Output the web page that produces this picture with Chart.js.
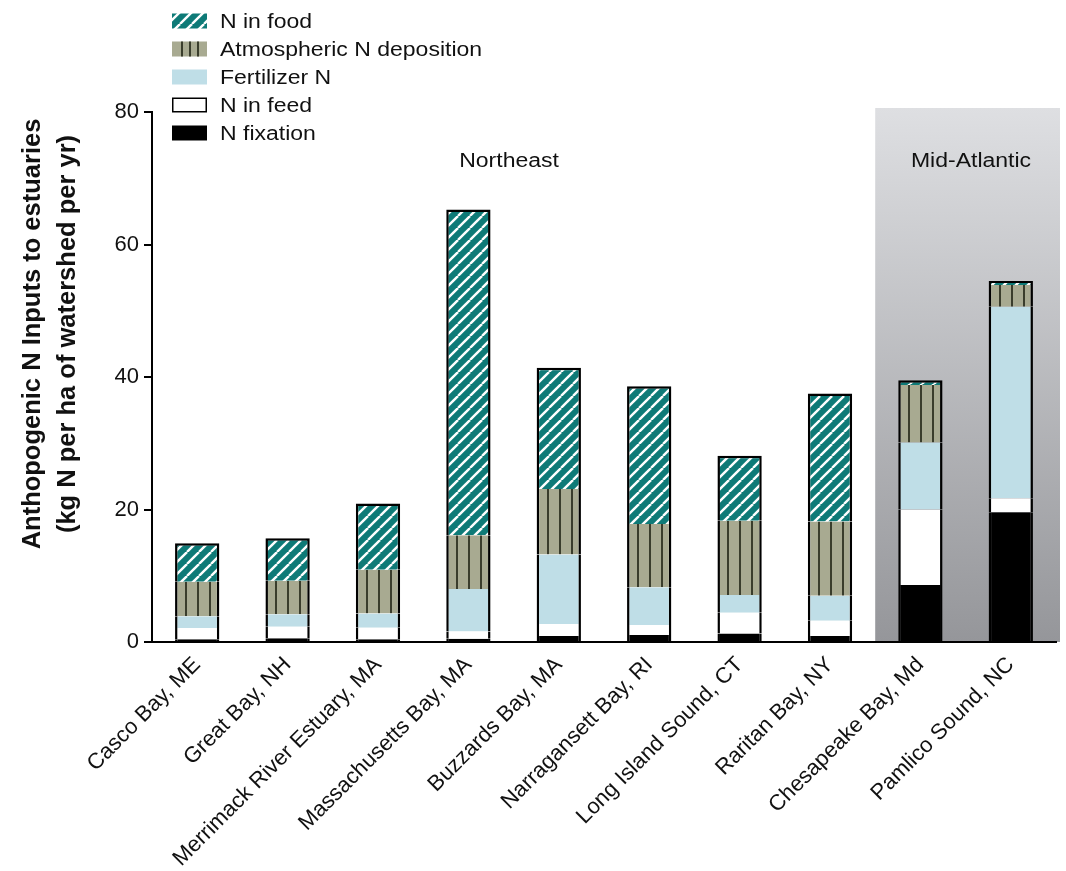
<!DOCTYPE html>
<html>
<head>
<meta charset="utf-8">
<script src="https://cdn.jsdelivr.net/npm/chart.js@4/dist/chart.umd.min.js"></script>
<style>
  body { margin: 0; background: #fff; }
  canvas { display: block; }
</style>
</head>
<body>
<canvas id="chart" width="1066" height="871"></canvas>
<script>
// Estuaries along the x axis
const categories = [
    'Casco Bay, ME', 'Great Bay, NH', 'Merrimack River Estuary, MA', 'Massachusetts Bay, MA',
    'Buzzards Bay, MA', 'Narragansett Bay, RI', 'Long Island Sound, CT', 'Raritan Bay, NY',
    'Chesapeake Bay, Md', 'Pamlico Sound, NC'
];

// kg N per ha of watershed per yr (bottom to top)
const nFixation   = [0.4, 0.55, 0.4, 0.5, 0.9, 1.05, 1.3, 0.9, 8.6, 19.6];
const nInFeed     = [1.7, 1.75, 1.75, 1.1, 1.8, 1.5, 3.1, 2.3, 11.4, 2.1];
const fertilizerN = [1.8, 1.9, 2.15, 6.4, 10.5, 5.7, 2.7, 3.8, 10.1, 28.9];
const atmosphericN = [5.2, 5.05, 6.6, 8.1, 9.9, 9.55, 11.2, 11.2, 8.7, 3.3];
const nInFood     = [5.8, 6.4, 10.0, 49.2, 18.3, 20.8, 9.8, 19.3, 0.7, 0.6];

const yTicks = [0, 20, 40, 60, 80];
const regions = [
    { label: 'Northeast', from: 0, to: 7, shaded: false },
    { label: 'Mid-Atlantic', from: 8, to: 9, shaded: true }
];

const TEAL = '#0e7a77';
const KHAKI = '#a8aa91';
const KHAKI_LINE = '#3a3d2c';
const FERT = '#bfdee7';
const BAR_PCT = 0.49;
const BW = 2.5;
const FONT = '"Liberation Sans", Arial, Helvetica, sans-serif';
const STRETCH = 1.15; // the source text is a little wide

// Tiles for the hatched fills
function stripeTile() {
    const t = document.createElement('canvas');
    t.width = 12; t.height = 12;
    const c = t.getContext('2d');
    c.fillStyle = TEAL;
    c.fillRect(0, 0, 12, 12);
    c.strokeStyle = '#ffffff';
    c.lineWidth = 2.4;
    for (const o of [-12, 0, 12]) {
        c.beginPath();
        c.moveTo(o, 12);
        c.lineTo(o + 12, 0);
        c.stroke();
    }
    return t;
}
function barTile() {
    const t = document.createElement('canvas');
    t.width = 12; t.height = 12;
    const c = t.getContext('2d');
    c.fillStyle = KHAKI;
    c.fillRect(0, 0, 12, 12);
    c.fillStyle = KHAKI_LINE;
    c.fillRect(10, 0, 2, 12);
    return t;
}
const stripeCanvas = stripeTile();
const barCanvas = barTile();
const patternCache = {};

// one pattern per bar so the hatch lines up with the bar's left edge
function hatch(tile, key, fallback) {
    return function(ctx) {
        if (ctx.type !== 'data') return fallback;
        const xs = ctx.chart.scales.x;
        if (!xs || !xs.width) return fallback;
        const bw = xs.width / categories.length * BAR_PCT;
        const left = xs.getPixelForValue(ctx.dataIndex) - bw / 2;
        const id = key + ctx.dataIndex;
        if (!patternCache[id]) patternCache[id] = ctx.chart.ctx.createPattern(tile, 'repeat');
        const p = patternCache[id];
        p.setTransform(new DOMMatrix([1, 0, 0, 1, Math.round(left), 0]));
        return p;
    };
}

const side = { left: BW, right: BW, top: 0, bottom: 0 };

const datasets = [
    { label: 'N fixation', data: nFixation, backgroundColor: '#000000', borderWidth: side },
    { label: 'N in feed', data: nInFeed, backgroundColor: '#ffffff', borderWidth: side },
    { label: 'Fertilizer N', data: fertilizerN, backgroundColor: FERT, borderWidth: side },
    { label: 'Atmospheric N deposition', data: atmosphericN, backgroundColor: hatch(barCanvas, 'a', KHAKI), borderWidth: side },
    { label: 'N in food', data: nInFood, backgroundColor: hatch(stripeCanvas, 'f', TEAL),
      borderWidth: { left: BW, right: BW, top: BW, bottom: 0 } }
].map(d => Object.assign(d, {
    borderColor: '#000000',
    borderSkipped: false,
    barPercentage: BAR_PCT,
    categoryPercentage: 1.0
}));

function wideText(ctx, text, x, y, align) {
    ctx.save();
    ctx.translate(x, y);
    ctx.scale(STRETCH, 1);
    ctx.textAlign = align;
    ctx.fillText(text, 0, 0);
    ctx.restore();
}

// Shaded Mid-Atlantic panel
const regionShade = {
    id: 'regionShade',
    beforeDraw(chart) {
        const { ctx, chartArea, scales: { x, y } } = chart;
        regions.filter(r => r.shaded).forEach(r => {
            const left = x.getPixelForValue(r.from - 0.5);
            const right = chartArea.right + 4;
            const top = y.getPixelForValue(80) - 4;
            const bottom = chartArea.bottom;
            const g = ctx.createLinearGradient(0, top, 0, bottom);
            g.addColorStop(0, '#dedfe2');
            g.addColorStop(1, '#95969a');
            ctx.save();
            ctx.fillStyle = g;
            ctx.fillRect(left, top, right - left, bottom - top);
            ctx.restore();
        });
    },
    afterDatasetsDraw(chart) {
        const { ctx, scales: { x, y } } = chart;
        ctx.save();
        ctx.font = '20px ' + FONT;
        ctx.fillStyle = '#111';
        ctx.textBaseline = 'middle';
        regions.forEach(r => {
            const cx = r.shaded ? x.getPixelForValue((r.from + r.to) / 2 + 0.06) : x.getPixelForValue(3.45);
            wideText(ctx, r.label, cx, y.getPixelForValue(72.6), 'center');
        });
        ctx.restore();
    }
};

// Legend and y title, drawn by hand so the hatch swatches show
const legendAndTitle = {
    id: 'legendAndTitle',
    afterDraw(chart) {
        const { ctx } = chart;
        ctx.save();
        const items = chart.data.datasets.slice().reverse();
        items.forEach((ds, i) => {
            const cy = 21 + i * 28;
            const sx = 172, sw = 35, sh = 15, sy = cy - sh / 2;
            if (ds.label === 'N in food') {
                ctx.fillStyle = ctx.createPattern(stripeCanvas, 'repeat');
                ctx.fillRect(sx, sy, sw, sh);
            } else if (ds.label === 'Atmospheric N deposition') {
                ctx.fillStyle = KHAKI;
                ctx.fillRect(sx, sy, sw, sh);
                ctx.fillStyle = KHAKI_LINE;
                [9, 17, 25].forEach(o => ctx.fillRect(sx + o, sy, 2, sh));
            } else {
                ctx.fillStyle = ds.backgroundColor;
                ctx.fillRect(sx, sy, sw, sh);
                if (ds.label === 'N in feed') {
                    ctx.strokeStyle = '#000';
                    ctx.lineWidth = 1.5;
                    ctx.strokeRect(sx + 0.75, sy + 0.75, sw - 1.5, sh - 1.5);
                }
            }
            ctx.fillStyle = '#111';
            ctx.font = '20px ' + FONT;
            ctx.textBaseline = 'middle';
            wideText(ctx, ds.label, 220, cy + 1, 'left');
        });

        // y axis title
        ctx.translate(50, 334);
        ctx.rotate(-Math.PI / 2);
        ctx.font = 'bold 25.5px ' + FONT;
        ctx.fillStyle = '#111';
        ctx.textAlign = 'center';
        ctx.textBaseline = 'middle';
        ctx.fillText('Anthopogenic N Inputs to estuaries', 0, -17);
        ctx.fillText('(kg N per ha of watershed per yr)', 0, 18);
        ctx.restore();
    }
};

new Chart(document.getElementById('chart'), {
    type: 'bar',
    data: { labels: categories, datasets: datasets },
    options: {
        responsive: false,
        animation: false,
        layout: { padding: { top: 112, right: 10, left: 0, bottom: 0 } },
        plugins: { legend: { display: false }, tooltip: { enabled: false } },
        scales: {
            x: {
                stacked: true,
                grid: { display: false },
                border: { display: true, color: '#000', width: 2 },
                ticks: {
                    autoSkip: false,
                    minRotation: 45,
                    maxRotation: 45,
                    padding: 2,
                    color: '#111',
                    font: { family: FONT, size: 22 }
                },
                afterFit: s => { s.height = 229; }
            },
            y: {
                stacked: true,
                min: 0,
                max: 80,
                afterBuildTicks: s => { s.ticks = yTicks.map(v => ({ value: v })); },
                grid: { drawOnChartArea: false, drawTicks: true, tickLength: 8, color: '#000', lineWidth: 2 },
                border: { display: true, color: '#000', width: 2 },
                ticks: { padding: 5, color: '#111', font: { family: FONT, size: 22 } },
                afterFit: s => { s.width = 152; }
            }
        }
    },
    plugins: [regionShade, legendAndTitle]
});
</script>
</body>
</html>
